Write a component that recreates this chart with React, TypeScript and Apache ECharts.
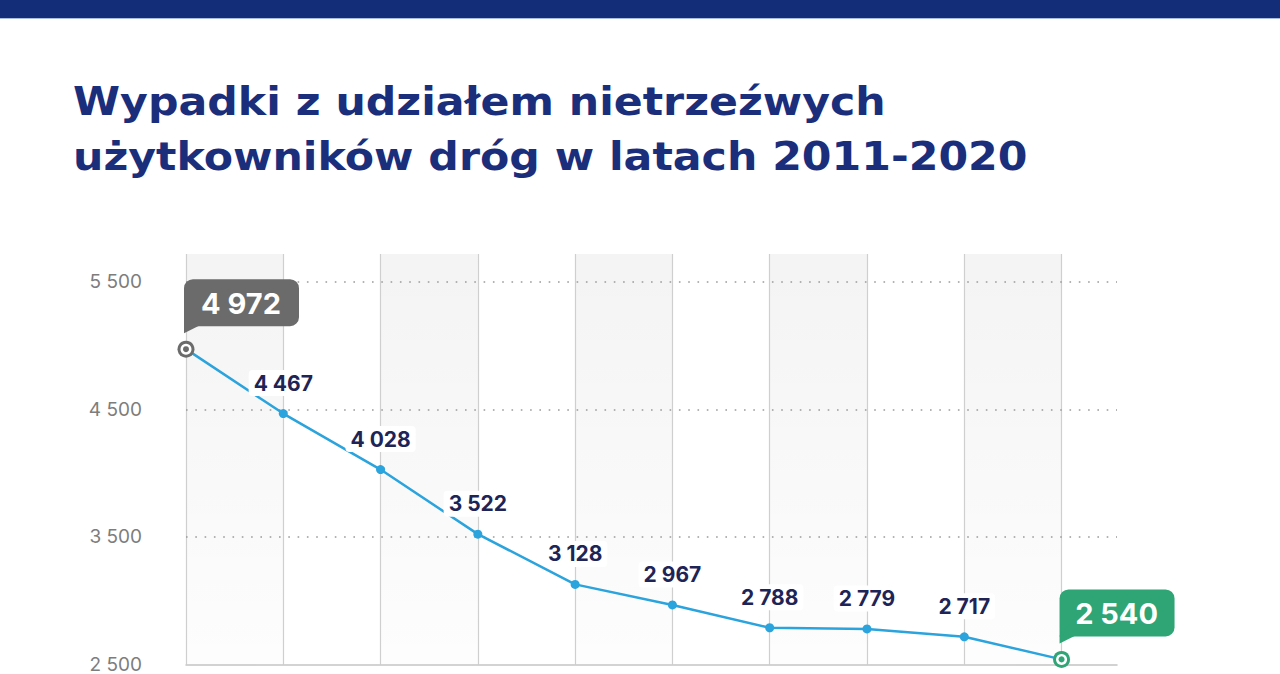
import React, { useEffect, useRef } from 'react';
import * as echarts from 'echarts';

const years = ['2011', '2012', '2013', '2014', '2015', '2016', '2017', '2018', '2019', '2020'];
const accidents = [4972, 4467, 4028, 3522, 3128, 2967, 2788, 2779, 2717, 2540];
const yTickValues = [2500, 3500, 4500, 5500];
const highlightIndices = [0, 9];
const calloutColors = ['#6b6b6b', '#2fa575'];
const titleLines = ['Wypadki z udziałem nietrzeźwych', 'użytkowników dróg w latach 2011-2020'];

const FONT = 'Inter, "Open Sans", sans-serif';
const TITLE_FONT = '"DejaVu Sans", Inter, sans-serif';
const fmt = (v: number) => String(Math.round(v)).replace(/\B(?=(\d{3})+(?!\d))/g, ' ');

export default function App() {
  const ref = useRef<HTMLDivElement>(null);
  useEffect(() => {
    if (!ref.current) return;
    const chart = echarts.init(ref.current, undefined, { renderer: 'svg' });
    const lineData = accidents.map((v, i) =>
      highlightIndices.includes(i)
        ? { value: [i, v], symbol: 'none', label: { show: false } }
        : { value: [i, v] }
    );
    const calloutData = highlightIndices.map((i) => [i, accidents[i]]);
    const shade = new echarts.graphic.LinearGradient(0, 0, 0, 1, [
      { offset: 0, color: 'rgba(0,0,0,0.045)' },
      { offset: 1, color: 'rgba(0,0,0,0.008)' },
    ]);
    chart.setOption({
      animation: false,
      backgroundColor: '#ffffff',
      graphic: [
        { type: 'rect', shape: { x: 0, y: 0, width: 1280, height: 18 }, style: { fill: '#132d78' } },
        { type: 'rect', shape: { x: 0, y: 18, width: 1280, height: 1 }, style: { fill: '#a9bde0' } },
        {
          type: 'text',
          x: 73,
          y: 74,
          scaleX: 1.095,
          style: {
            text: titleLines.join('\n'),
            fontFamily: TITLE_FONT,
            fontSize: 39,
            fontWeight: 'bold',
            fill: '#1a2e7c',
            lineHeight: 55,
            verticalAlign: 'top',
            align: 'left',
          },
        },
      ],
      grid: { left: 186, right: 163, top: 254, bottom: 6 },
      xAxis: {
        type: 'value',
        min: 0,
        max: 9.57,
        interval: 1,
        z: 0,
        axisLine: { show: true, lineStyle: { color: '#c4c4c4', width: 1.5 } },
        axisTick: { show: false },
        axisLabel: { show: false, formatter: (v: number) => years[v] ?? '' },
        splitLine: { show: true, showMaxLine: false, lineStyle: { color: '#cfcfcf', width: 1.2 } },
        splitArea: { show: true, areaStyle: { color: [shade, 'rgba(255,255,255,0)'] } },
      },
      yAxis: {
        type: 'value',
        min: 2500,
        max: 5718,
        interval: 1000,
        z: 1,
        axisLine: { show: false },
        axisTick: { show: false },
        axisLabel: {
          margin: 44,
          color: '#7d7d7d',
          fontFamily: FONT,
          fontSize: 19,
          formatter: (v: number) => (yTickValues.includes(v) ? fmt(v) : ''),
        },
        splitLine: {
          show: true,
          showMinLine: false,
          showMaxLine: false,
          lineStyle: { color: '#9a9a9a', width: 1.6, type: [1.6, 7.7] },
        },
      },
      series: [
        {
          type: 'line',
          data: lineData,
          symbol: 'circle',
          symbolSize: 9,
          itemStyle: { color: '#2ba3dc' },
          lineStyle: { color: '#2ba3dc', width: 2.5 },
          z: 3,
          label: {
            show: true,
            position: 'top',
            distance: 13,
            formatter: (p: any) => fmt(p.value[1]),
            color: '#1e2456',
            fontFamily: FONT,
            fontWeight: 700,
            fontSize: 21,
            lineHeight: 22,
            backgroundColor: '#ffffff',
            padding: [2, 5],
            borderRadius: 4,
          },
        },
        {
          type: 'custom',
          clip: false,
          z: 5,
          data: calloutData,
          renderItem: (params: any, api: any) => {
            const v = api.value(1);
            const [px, py] = api.coord([api.value(0), v]);
            const color = calloutColors[params.dataIndex];
            return {
              type: 'group',
              children: [
                {
                  type: 'rect',
                  shape: { x: px - 2, y: py - 70, width: 115, height: 47, r: [9, 9, 9, 0] },
                  style: { fill: color },
                },
                {
                  type: 'polygon',
                  shape: { points: [[px - 2, py - 24], [px + 14, py - 24], [px - 2, py - 16]] },
                  style: { fill: color },
                },
                {
                  type: 'text',
                  style: {
                    text: fmt(v),
                    x: px + 55,
                    y: py - 46,
                    align: 'center',
                    verticalAlign: 'middle',
                    fill: '#ffffff',
                    fontFamily: FONT,
                    fontWeight: 700,
                    fontSize: 29,
                  },
                },
                { type: 'circle', shape: { cx: px, cy: py, r: 8.5 }, style: { fill: color } },
                { type: 'circle', shape: { cx: px, cy: py, r: 5.5 }, style: { fill: '#ffffff' } },
                { type: 'circle', shape: { cx: px, cy: py, r: 3 }, style: { fill: color } },
              ],
            };
          },
        },
      ],
    });
    return () => chart.dispose();
  }, []);
  return (
    <div
      ref={ref}
      style={{ position: 'fixed', left: 0, top: 0, width: 1280, height: 674 }}
    />
  );
}
